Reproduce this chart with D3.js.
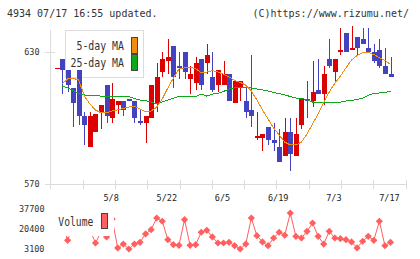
<!DOCTYPE html>
<html>
<head>
<meta charset="utf-8">
<script src="https://cdn.jsdelivr.net/npm/d3@7"></script>
<style>
html, body { margin: 0; padding: 0; background: #fff; }
svg { display: block; font-family: "DejaVu Sans Mono", "Liberation Mono", monospace; }
</style>
</head>
<body>
<div id="chart"></div>
<script>
// 4934 daily candles, 2025/4/21 - 7/17
const dates = [
    "4/21","4/22","4/23","4/24","4/25","4/28","4/30","5/1","5/2","5/7",
    "5/8","5/9","5/12","5/13","5/14","5/15","5/16","5/19","5/20","5/21",
    "5/22","5/23","5/26","5/27","5/28","5/29","5/30","6/2","6/3","6/4",
    "6/5","6/6","6/9","6/10","6/11","6/12","6/13","6/16","6/17","6/18",
    "6/19","6/20","6/23","6/24","6/25","6/26","6/27","6/30","7/1","7/2",
    "7/3","7/4","7/7","7/8","7/9","7/10","7/11","7/14","7/15","7/16",
    "7/17"
];
const open = [
    623, 627, 622, 614, 622, 601, 587, 594, 603, 615,
    600, 606, 608, 609, 608, 599, 598, 600, 607, 621,
    626, 633, 624, 630, 618, 616, 627, 625, 619, 615,
    615, 620, 607, 614, 608, 604, 591, 591, 596, 590,
    587, 583, 594, 583, 597, 609, 608, 613, 611, 627,
    621, 630, 639, 631, 637, 636, 632, 630, 631, 624,
    620
];
const high = [
    623, 627, 622, 614, 622, 603, 603, 602, 606, 615,
    616, 608, 608, 609, 608, 604, 601, 615, 625, 630,
    636, 633, 630, 630, 624, 628, 627, 634, 630, 622,
    626, 620, 617, 617, 615, 629, 603, 593, 596, 598,
    595, 600, 600, 600, 609, 617, 626, 627, 624, 636,
    627, 641, 639, 642, 637, 641, 641, 634, 636, 632,
    628
];
const low = [
    623, 611, 612, 596, 597, 588, 587, 594, 595, 598,
    598, 602, 601, 608, 598, 597, 589, 600, 603, 619,
    620, 614, 618, 618, 611, 613, 613, 620, 612, 612,
    615, 608, 607, 608, 600, 596, 590, 585, 588, 585,
    580, 583, 576, 583, 595, 600, 605, 611, 606, 623,
    617, 629, 630, 631, 629, 634, 630, 625, 623, 620,
    619
];
const close = [
    623, 622, 615, 607, 601, 597, 601, 602, 606, 601,
    609, 608, 604, 608, 600, 598, 601, 615, 619, 627,
    628, 619, 623, 621, 620, 625, 615, 629, 613, 622,
    620, 608, 617, 617, 603, 601, 592, 593, 590, 589,
    580, 594, 584, 593, 609, 608, 612, 611, 620, 624,
    627, 631, 630, 632, 632, 634, 630, 626, 624, 620,
    619
];
const ma5 = [
    null, 615.6, 617.9, 618.2, 617.4, 610.1, 606.5, 603.8, 602.5, 602.6,
    603.3, 603.8, 604.5, 605.1, 605.4, 604.2, 602.9, 603.3, 605.1, 608.8,
    613.8, 618.3, 622.4, 622.9, 623.2, 622.6, 620.6, 621.0, 621.7, 621.0,
    620.1, 618.8, 617.2, 616.3, 615.1, 612.4, 608.3, 603.8, 599.7, 595.6,
    592.4, 589.2, 587.9, 587.9, 589.2, 592.9, 597.4, 602.0, 607.0, 612.0,
    616.0, 619.2, 622.9, 626.5, 628.5, 629.9, 629.9, 629.0, 627.6, 626.3,
    624.5
];
const ma25 = [
    null, 614.7, 613.8, 612.6, 611.3, 610.6, 610.4, 610.4, 610.1, 609.9,
    609.9, 609.9, 609.9, 609.9, 609.0, 608.3, 608.0, 607.4, 606.5, 607.5,
    608.3, 609.2, 609.9, 609.9, 609.9, 609.9, 611.0, 610.1, 611.0, 611.3,
    612.2, 613.3, 613.8, 614.0, 614.0, 613.8, 613.3, 612.9, 612.4, 611.7,
    611.3, 610.6, 609.9, 609.2, 609.1, 608.3, 607.4, 607.3, 607.3, 607.3,
    607.3, 607.3, 607.9, 608.2, 608.5, 609.2, 610.4, 611.3, 611.5, 611.7,
    612.4
];
const volume = [
    22000, 25000, 10600, 24000, 26000, 21000, 20000, 8300, 17800, 13500,
    29000, 4000, 7400, 3100, 7400, 8900, 16100, 19800, 29900, 27100,
    11200, 6800, 6300, 28500, 6300, 6800, 17600, 19300, 13500, 8300,
    8300, 8900, 6000, 3100, 7400, 29900, 14600, 9200, 6000, 12600,
    17600, 15000, 34200, 14100, 12600, 18400, 25600, 14100, 7400, 18400,
    12600, 12000, 11200, 9200, 4000, 9800, 14100, 10600, 27100, 6000,
    8900
];
const xTickLabels = ["5/8", "5/22", "6/5", "6/19", "7/3", "7/17"];
const priceTicks = [570, 630];
const volumeTicks = [3100, 20400, 37700];

const W = 420, H = 259;
const upColor = "#dc0000", downColor = "#4343c2";
const gridColor = "#dcdcdc", textColor = "#333";

const svg = d3.select("#chart").append("svg")
    .attr("width", W)
    .attr("height", H);

const x = d3.scalePoint().domain(dates).range([56.5, 390.5]);
const y = d3.scaleLinear().domain([570, 630]).range([184.3, 52.3]);
const yv = d3.scaleLinear().domain([3100, 37700]).range([249, 209]);

// header
svg.append("text")
    .attr("x", 7).attr("y", 13.3).attr("dy", "0.35em")
    .attr("font-size", 10).attr("fill", textColor)
    .text("4934 07/17 16:55 updated.");
svg.append("text")
    .attr("x", 409).attr("y", 13.3).attr("dy", "0.35em")
    .attr("text-anchor", "end")
    .attr("font-size", 10).attr("fill", textColor)
    .text("(C)https://www.rizumu.net/");

// ─────────────────────────────────────────────
// Frame: left axis, bottom axis, tick marks
// ─────────────────────────────────────────────
const frame = svg.append("g")
    .attr("stroke", gridColor)
    .attr("shape-rendering", "crispEdges");

frame.append("line")
    .attr("x1", 50.5).attr("x2", 50.5)
    .attr("y1", 30).attr("y2", 189);

frame.append("line")
    .attr("x1", 45).attr("x2", 406)
    .attr("y1", y(570)).attr("y2", y(570));

frame.append("line")
    .attr("x1", 45).attr("x2", 55)
    .attr("y1", y(630)).attr("y2", y(630));

const gridX = d3.scaleLinear().domain([0, 11]).range([50.5, 405.5]);
frame.selectAll(".tk")
    .data(d3.range(1, 12))
    .enter()
    .append("line")
    .attr("x1", d => Math.round(gridX(d)) + 0.5)
    .attr("x2", d => Math.round(gridX(d)) + 0.5)
    .attr("y1", 180).attr("y2", 189);

// price labels
svg.selectAll(".plabel")
    .data(priceTicks)
    .enter()
    .append("text")
    .attr("x", 39.5).attr("y", d => y(d)).attr("dy", "0.35em")
    .attr("text-anchor", "end")
    .attr("font-size", 8.5).attr("fill", textColor)
    .text(d => d);

// date labels
svg.selectAll(".xlabel")
    .data(xTickLabels)
    .enter()
    .append("text")
    .attr("x", d => x(d) - 1).attr("y", 198).attr("dy", "0.35em")
    .attr("text-anchor", "middle")
    .attr("font-size", 8.5).attr("fill", "#222")
    .text(d => d);

// ─────────────────────────────────────────────
// Legend (candles are drawn over it)
// ─────────────────────────────────────────────
const legend = svg.append("g").attr("shape-rendering", "crispEdges");
legend.append("rect")
    .attr("x", 65.5).attr("y", 30.5)
    .attr("width", 78).attr("height", 47)
    .attr("fill", "#fff").attr("stroke", gridColor);

const legendItems = [
    { label: "5-day MA", color: "#f08c10", yc: 45.7, ry: 37.5 },
    { label: "25-day MA", color: "#10a818", yc: 62.7, ry: 54.5 }
];
legendItems.forEach(it => {
    legend.append("text")
        .attr("x", 124).attr("y", it.yc).attr("dy", "0.35em")
        .attr("text-anchor", "end")
        .attr("font-size", 12.5).attr("fill", textColor)
        .attr("textLength", it.label.length * 6 - 0.5)
        .attr("lengthAdjust", "spacingAndGlyphs")
        .text(it.label);
    legend.append("rect")
        .attr("x", 131.5).attr("y", it.ry)
        .attr("width", 6).attr("height", 15.5)
        .attr("fill", it.color).attr("stroke", "#444");
});

// ─────────────────────────────────────────────
// Candles
// ─────────────────────────────────────────────
const candles = dates.map((d, i) => ({
    date: d, o: open[i], h: high[i], l: low[i], c: close[i]
}));
const bodyW = 5;

const cg = svg.append("g").attr("shape-rendering", "crispEdges");
cg.selectAll(".wick")
    .data(candles)
    .enter()
    .append("line")
    .attr("x1", d => Math.round(x(d.date)) + 0.5)
    .attr("x2", d => Math.round(x(d.date)) + 0.5)
    .attr("y1", d => y(d.h))
    .attr("y2", d => y(d.l))
    .attr("stroke", d => d.c >= d.o ? upColor : downColor);

cg.selectAll(".body")
    .data(candles)
    .enter()
    .append("rect")
    .attr("x", d => Math.round(x(d.date)) - 2)
    .attr("width", bodyW)
    .attr("y", d => y(Math.max(d.o, d.c)))
    .attr("height", d => Math.max(1, Math.abs(y(d.o) - y(d.c))))
    .attr("fill", d => d.c >= d.o ? upColor : downColor);

// moving averages (thin, aliased like the original)
const maLine = d3.line()
    .defined(d => d.v != null)
    .x(d => x(d.date))
    .y(d => y(d.v));

[[ma25, "#10a818"], [ma5, "#f08c10"]].forEach(([arr, col]) => {
    svg.append("path")
        .datum(dates.map((d, i) => ({ date: d, v: arr[i] })))
        .attr("d", maLine)
        .attr("fill", "none")
        .attr("stroke", col)
        .attr("stroke-width", 1)
        .attr("shape-rendering", "crispEdges");
});

// ─────────────────────────────────────────────
// Volume panel
// ─────────────────────────────────────────────
svg.selectAll(".vlabel")
    .data(volumeTicks)
    .enter()
    .append("text")
    .attr("x", 44.5).attr("y", d => yv(d)).attr("dy", "0.35em")
    .attr("text-anchor", "end")
    .attr("font-size", 8.5).attr("fill", textColor)
    .text(d => d);

const volColor = "#ff5f5f";
const vols = dates.map((d, i) => ({ date: d, v: volume[i] }));

svg.append("path")
    .datum(vols)
    .attr("d", d3.line().x(d => x(d.date)).y(d => yv(d.v)))
    .attr("fill", "none")
    .attr("stroke", volColor)
    .attr("stroke-width", 1);

svg.selectAll(".vdot")
    .data(vols)
    .enter()
    .append("path")
    .attr("d", d3.symbol(d3.symbolSquare, 26))
    .attr("transform", d => `translate(${x(d.date)},${yv(d.v)}) rotate(45)`)
    .attr("fill", volColor);

// volume legend covers the first points
const vlg = svg.append("g").attr("shape-rendering", "crispEdges");
vlg.append("rect")
    .attr("x", 52).attr("y", 203)
    .attr("width", 61.5).attr("height", 33.3)
    .attr("fill", "#fff");
vlg.append("text")
    .attr("x", 58.3).attr("y", 222).attr("dy", "0.35em")
    .attr("font-size", 11.5).attr("fill", textColor)
    .attr("textLength", 35).attr("lengthAdjust", "spacingAndGlyphs")
    .text("Volume");
vlg.append("rect")
    .attr("x", 101.5).attr("y", 213.5)
    .attr("width", 6).attr("height", 14.5)
    .attr("fill", volColor).attr("stroke", "#444");
</script>
</body>
</html>
